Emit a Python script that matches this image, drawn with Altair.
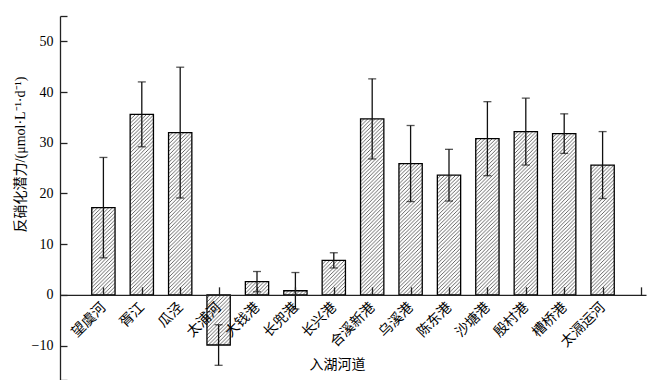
import json
import jinja2
import altair as alt
import pandas as pd
from altair.utils.html import TEMPLATES

# ---- data ----
rivers = ["望虞河", "胥江", "瓜泾", "太浦河", "大钱港", "长兜港", "长兴港",
          "合溪新港", "乌溪港", "陈东港", "沙塘港", "殷村港", "槽桥港", "太滆运河"]
means = [17.2, 35.6, 32.0, -9.9, 2.6, 0.8, 6.8, 34.7, 25.9, 23.6, 30.8, 32.2, 31.8, 25.6]
errs = [9.9, 6.4, 12.9, 4.0, 2.0, 3.6, 1.5, 7.9, 7.5, 5.1, 7.3, 6.6, 3.9, 6.6]
positions = list(range(1, 15))
y_ticks = [-10, 0, 10, 20, 30, 40, 50]
y_min, y_max = -16.8, 55
x_min, x_max = 0, 15

df = pd.DataFrame({"river": rivers, "pos": positions, "mean": means, "err": errs})

W, H = 586, 364
zero_px = H * y_max / (y_max - y_min)

FONT = "Liberation Serif, Times New Roman, Noto Sans CJK SC"
AX = "#222222"

xscale = alt.Scale(domain=[x_min, x_max], nice=False, zero=False)
yscale = alt.Scale(domain=[y_min, y_max], nice=False, zero=False)

label_expr = json.dumps(rivers, ensure_ascii=False) + "[datum.value - 1]"

bars = alt.Chart(df).mark_bar(
    width=23.3, fill="url(#hatch)", stroke="black", strokeWidth=1.3
).encode(
    x=alt.X("pos:Q", scale=xscale, axis=alt.Axis(
        orient="bottom", offset=-(H - zero_px), values=positions, labelExpr=label_expr,
        labelAngle=-45, labelAlign="right", labelBaseline="middle", labelPadding=10,
        labelOverlap=False, labelFlush=False, labelFont=FONT, labelFontSize=14,
        labelColor="black", ticks=False, domain=True, domainColor=AX, domainWidth=1.3,
        grid=False, title="入湖河道", titleFont=FONT, titleFontSize=14,
        titleFontWeight="normal", titleColor="black", titleX=277, titleY=70,
        titleBaseline="middle", titleAlign="center", zindex=1)),
    y=alt.Y("mean:Q", scale=yscale, axis=alt.Axis(
        orient="left", values=y_ticks, labelExpr="datum.value < 0 ? '\u2212' + abs(datum.value) : datum.value",
        ticks=False, labelPadding=7, labelFont=FONT, labelFontSize=14, labelColor="black",
        domain=True, domainColor=AX, domainWidth=1.3, grid=False,
        title="反硝化潜力/(μmol·L⁻¹·d⁻¹)", titleFont=FONT, titleFontSize=14,
        titleFontWeight="normal", titleColor="black", titleAngle=270,
        titleX=-36, titleY=138, titleAlign="center", titleBaseline="alphabetic")),
    y2=alt.datum(0),
)

errorbars = alt.Chart(df).mark_errorbar(
    ticks=alt.MarkConfig(size=8), thickness=1.3, color="#111111"
).encode(
    x=alt.X("pos:Q", scale=xscale, axis=None),
    y=alt.Y("mean:Q", scale=yscale, axis=None),
    yError="err:Q",
)

tick_layer = alt.Chart(df).mark_point(opacity=0).encode(
    x=alt.X("pos:Q", scale=xscale, axis=alt.Axis(
        orient="top", offset=-zero_px, values=positions + [x_max], labels=False,
        domain=False, tickSize=8, tickColor=AX, tickWidth=1.3, grid=False, title=None, zindex=1)),
    y=alt.Y("mean:Q", scale=yscale, axis=alt.Axis(
        orient="right", offset=-W, values=[y_min] + y_ticks + [y_max], labels=False,
        domain=False, tickSize=7, tickColor=AX, tickWidth=1.3, grid=False, title=None, zindex=1)),
)

chart = alt.layer(bars, errorbars, tick_layer).properties(
    width=W, height=H, autosize=alt.AutoSizeParams(type="none"),
    padding={"left": 52, "top": 8, "right": 10, "bottom": 0},
    background="white",
).configure_view(stroke=None)

HATCH_DEFS = (
    '<svg width="0" height="0" style="position:absolute;left:0;top:0">'
    '<defs><pattern id="hatch" patternUnits="userSpaceOnUse" width="3.7" height="3.7">'
    '<rect width="3.7" height="3.7" fill="white"/>'
    '<path d="M-1,1 L1,-1 M0,3.7 L3.7,0 M2.7,4.7 L4.7,2.7" stroke="#555555" stroke-width="0.9"/>'
    '</pattern></defs></svg>'
)


class HatchTemplate(jinja2.Template):
    def render(self, *args, **kwargs):
        html = TEMPLATES["standard"].render(*args, **kwargs)
        return html.replace('<div id="vis"', HATCH_DEFS + '<div id="vis"', 1)


chart.save("out.html", embed_options={"renderer": "svg", "actions": False},
           template=HatchTemplate("x"))
